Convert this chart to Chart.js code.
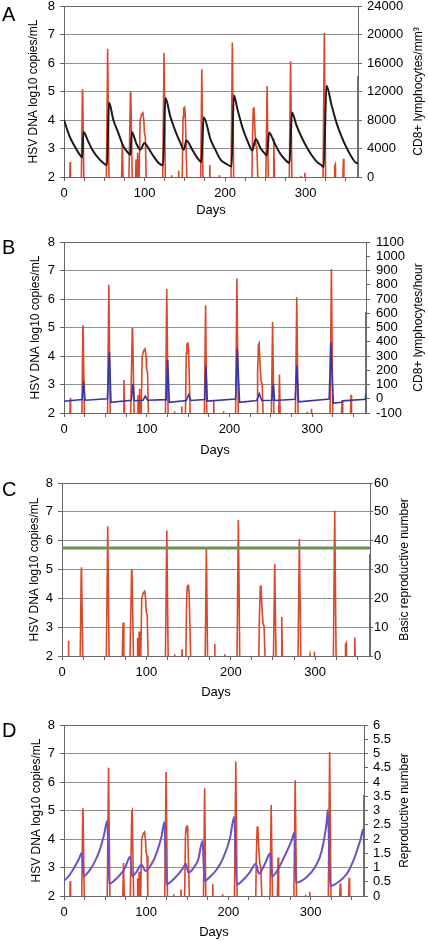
<!DOCTYPE html>
<html>
<head>
<meta charset="utf-8">
<script src="https://cdn.jsdelivr.net/npm/chart.js@4"></script>
<style>
  html, body { margin: 0; padding: 0; background: #fff; }
  #page { position: relative; width: 428px; height: 941px; overflow: hidden; }
  #page canvas { position: absolute; left: 0; }
  .letter { position: absolute; left: 2px; font: 20px/20px "Liberation Sans", Arial, sans-serif; color: #000; }
</style>
</head>
<body>
<div id="page">
  <canvas id="chartA" width="428" height="228" style="top:-10px"></canvas>
  <canvas id="chartB" width="428" height="232" style="top:226px"></canvas>
  <canvas id="chartC" width="428" height="233" style="top:467px"></canvas>
  <canvas id="chartD" width="428" height="231" style="top:709px"></canvas>
  <div class="letter" style="top:4px">A</div>
  <div class="letter" style="top:237px">B</div>
  <div class="letter" style="top:479px">C</div>
  <div class="letter" style="top:720px">D</div>
</div>
<script>
// HSV DNA (log10 copies/mL), same series in every panel; null = gap
const hsvDays = [
  7.2, 7.6, 8.0, 8.0,
  21.6, 22.8, 23.1, 24.6, 24.6,
  52.6, 54.2, 55.8, 55.8,
  71.5, 72.4, 73.3, 73.3,
  80.6, 82.5, 82.9, 84.7, 84.7,
  89.0, 89.4, 89.8, 89.8,
  90.8, 91.4, 92.0, 92.0,
  93.3, 94.5, 96.5, 98.0, 99.2, 99.8, 101.0, 102.0, 102.0,
  122.6, 124.2, 125.8, 125.8,
  133.3, 133.5, 133.7, 133.7,
  142.0, 142.3, 142.6, 142.6,
  146.8, 147.8, 148.6, 149.8, 150.6, 152.5, 152.5,
  169.7, 171.1, 172.5, 172.5,
  180.7, 181.0, 181.3, 181.3,
  192.7, 192.9, 193.1, 193.1,
  207.4, 209.0, 210.6, 210.6,
  233.3, 234.0, 235.0, 235.8, 237.2, 238.4, 239.4, 240.6, 240.6,
  250.6, 252.1, 253.6, 253.6,
  259.6, 260.4, 261.2, 261.2,
  279.7, 281.3, 282.9, 282.9,
  293.8, 294.0, 294.2, 294.2,
  298.7, 299.0, 299.3, 299.3,
  321.6, 323.2, 324.8, 324.8,
  335.4, 336.0, 336.6, 337.1, 337.1,
  346.3, 346.9, 347.5, 347.5,
  364.0, 364.8, 365.6
];
const hsvLog = [
  2, 2.53, 2, null,
  2, 5.0, 5.08, 2, null,
  2, 6.5, 2, null,
  2, 3.16, 2, null,
  2, 4.97, 5.0, 2, null,
  2, 2.62, 2, null,
  2, 2.85, 2, null,
  2, 4.0, 4.2, 4.25, 3.95, 3.55, 3.4, 2, null,
  2, 6.35, 2, null,
  2, 2.06, 2, null,
  2, 2.23, 2, null,
  2, 4.1, 4.42, 4.45, 4.2, 2, null,
  2, 5.78, 2, null,
  2, 2.42, 2, null,
  2, 2.06, 2, null,
  2, 6.72, 2, null,
  2, 3.4, 4.4, 4.45, 3.55, 3.08, 3.05, 2, null,
  2, 5.19, 2, null,
  2, 3.35, 2, null,
  2, 6.06, 2, null,
  2, 2.04, 2, null,
  2, 2.15, 2, null,
  2, 7.05, 2, null,
  2, 2.4, 2.44, 2, null,
  2, 2.64, 2, null,
  2, 5.54, 2
];

// A: CD8+ lymphocytes/mm3
const cd8Days = [0, 7.1, 13.4, 19.6, 22.5, 24.2, 30, 36.3, 42.5, 48.8, 53.4, 55.9, 61.3, 67.5, 73.8, 80, 82.5, 84.2,
  89.6, 94.6, 100, 104.6, 111.3, 117.5, 123, 125.9, 132, 138.4, 144.6, 148.8, 152, 159.2, 165.5, 170.5, 173.4, 182,
  188, 194.6, 200.9, 208, 210.9, 215.5, 221.7, 228, 233.8, 238, 243.8, 248.8, 252, 254.6, 261.3, 267.5, 273.8, 280,
  283, 288.4, 294.6, 300.9, 307.1, 313.4, 319.6, 322.5, 325.9, 332.1, 338.4, 344.6, 350.9, 357.1, 363.4, 365];
const cd8PerMm3 = [8000, 5680, 4280, 3120, 2760, 6320, 5000, 3600, 2680, 1960, 1640, 10440, 8000, 6160, 4280, 3360, 3120, 6320,
  4760, 3840, 4760, 4080, 2880, 1960, 1640, 11080, 8480, 6400, 4760, 3840, 5120, 3840, 2680, 2120, 8400, 5240,
  3800, 2400, 1880, 1480, 11440, 9440, 6880, 5000, 3720, 5320, 4080, 3360, 3040, 6240, 4760, 3440, 2520, 1960,
  9040, 7320, 5680, 4280, 3120, 2200, 1640, 1400, 12800, 10120, 7560, 5680, 4080, 2800, 1960, 2000];

// B: CD8+ lymphocytes/hour
const rateDays = [0, 22, 23.8, 25.4, 52.5, 54.8, 56.8, 81.4, 83.4, 85, 95.5, 98.3, 101, 123.7, 125.3, 127.3,
  147.8, 150.6, 153.4, 170, 171.6, 173.2, 207.4, 209.4, 212.2, 233, 236, 239, 251.3, 252.9, 254.5,
  279.5, 281.5, 283.5, 320.5, 322.5, 325.4, 335.5, 336.5, 364, 365];
const ratePerHour = [-18, -6, 122, -10, 0, 326, -25, -10, 104, -14, -10, 18, -10, -6, 272, -25,
  -12, 28, -12, -6, 230, -16, -2, 350, -25, -12, 36, -12, -10, 106, -12,
  -4, 232, -22, -2, 396, -30, -25, -15, -4, 36];

// C: basic reproductive number
const r0Days = [0, 365];
const r0Value = [37.5, 37.5];

// D: reproductive number
const rDays = [0, 6.7, 12.8, 17.7, 21.8, 23.8, 31.1, 37.2, 43.3, 48.6, 52.6, 55.1, 61.6, 67.7, 73.8, 80.7, 82.7, 88,
  94.1, 99.4, 106.3, 112.4, 118.5, 122.2, 124.6, 132.7, 138.8, 144.9, 148.2, 151.4, 157.1, 163.2, 168.5, 171,
  177.4, 185.6, 193.7, 201.8, 207.1, 210, 218.1, 226.2, 233.5, 237.2, 244.5, 250.6, 253.4, 260.7, 268.9, 277,
  280.2, 282.3, 295.4, 305.5, 313.7, 319.8, 321, 323.8, 333.9, 344.1, 352.2, 360.4, 364.4, 365];
const rValue = [0.53, 0.73, 1.02, 1.27, 1.52, 0.69, 0.9, 1.19, 1.6, 2.13, 2.63, 0.43, 0.55, 0.73, 0.96, 1.39, 0.7, 0.84,
  1.1, 0.88, 1.11, 1.49, 2.07, 2.6, 0.41, 0.57, 0.76, 0.98, 1.13, 0.82, 0.96, 1.27, 1.93, 0.53,
  0.67, 0.92, 1.34, 2.01, 2.77, 0.4, 0.57, 0.84, 1.13, 0.78, 1.13, 1.49, 0.69, 0.96, 1.43, 1.95,
  2.22, 0.47, 0.67, 1.02, 1.6, 2.65, 3.03, 0.35, 0.49, 0.78, 1.25, 1.95, 2.36, 1.8];

const xLabels = [0, 100, 200, 300];
const leftTitle = 'HSV DNA log10 copies/mL';

Chart.defaults.font.family = '"Liberation Sans", Arial, Helvetica, sans-serif';
Chart.defaults.font.size = 13;
Chart.defaults.color = '#000';

const toPoints = (xs, ys) => xs.map((x, i) => ({ x: x, y: ys[i] }));
const hsvPoints = toPoints(hsvDays, hsvLog);

// right axis titles read bottom-to-top in the original
const rightTitle = {
  id: 'rightTitle',
  afterDraw(chart, args, opts) {
    const { ctx, chartArea } = chart;
    ctx.save();
    ctx.translate(opts.x, (chartArea.top + chartArea.bottom) / 2);
    ctx.rotate(-Math.PI / 2);
    ctx.font = '12px "Liberation Sans", Arial, sans-serif';
    ctx.fillStyle = '#000';
    ctx.textAlign = 'center';
    ctx.textBaseline = 'middle';
    ctx.fillText(opts.text, 0, 0);
    ctx.restore();
  }
};

function makePanel(id, p) {
  return new Chart(document.getElementById(id), {
    type: 'line',
    data: {
      datasets: [
        {
          data: p.points, yAxisID: 'y2', borderColor: p.color, borderWidth: p.width,
          pointRadius: 0, cubicInterpolationMode: p.smooth ? 'monotone' : 'default', order: 0
        },
        {
          data: hsvPoints, yAxisID: 'y', borderColor: '#d9482b', borderWidth: 1.6,
          pointRadius: 0, spanGaps: false, order: 1
        }
      ]
    },
    options: {
      responsive: false,
      animation: false,
      layout: { padding: { top: 16, left: 0, right: 0, bottom: 0 } },
      plugins: {
        legend: { display: false },
        tooltip: { enabled: false },
        rightTitle: { text: p.rTitle, x: p.rTitleX }
      },
      scales: {
        x: {
          type: 'linear', min: 0, max: 365,
          ticks: {
            stepSize: 25, maxTicksLimit: 30, autoSkip: false, maxRotation: 0, includeBounds: false, padding: 5,
            callback: v => xLabels.includes(v) ? String(v) : ''
          },
          grid: { drawOnChartArea: false, tickLength: 4, color: '#666' },
          border: { color: '#666' },
          title: { display: true, text: 'Days', font: { size: 13 }, padding: 0 },
          afterFit: s => { s.height = p.xH; }
        },
        y: {
          position: 'left', min: 2, max: 8,
          ticks: { stepSize: 1, padding: 5, autoSkip: false },
          grid: { color: c => c.tick.value === 8 ? '#666' : '#909090', tickLength: 4, tickColor: '#666' },
          border: { color: '#666' },
          title: { display: true, text: leftTitle, font: { size: 12 }, padding: { top: p.lTitlePad, bottom: 0 } },
          afterFit: s => { s.width = p.left; }
        },
        y2: {
          position: 'right', min: p.rMin, max: p.rMax,
          ticks: { stepSize: p.rStep, maxTicksLimit: 30, autoSkip: false, padding: p.rPad, callback: v => String(v) },
          grid: { drawOnChartArea: false, tickLength: p.rTick, color: '#666' },
          border: { color: '#666' },
          afterFit: s => { s.width = p.right; }
        }
      }
    },
    plugins: [rightTitle]
  });
}

makePanel('chartA', {
  points: toPoints(cd8Days, cd8PerMm3), color: '#1a1a1a', width: 2, smooth: true,
  rMin: 0, rMax: 24000, rStep: 4000, rTitle: 'CD8+ lymphocytes/mm\u00b3', rTitleX: 419,
  left: 64, right: 70, xH: 41, lTitlePad: 26, rPad: 5, rTick: 4
});
makePanel('chartB', {
  points: toPoints(rateDays, ratePerHour), color: '#3636a8', width: 1.6, smooth: false,
  rMin: -100, rMax: 1100, rStep: 100, rTitle: 'CD8+ lymphocytes/hour', rTitleX: 419,
  left: 64, right: 62, xH: 45, lTitlePad: 28, rPad: 6, rTick: 4
});
makePanel('chartC', {
  points: toPoints(r0Days, r0Value), color: '#6f9150', width: 3, smooth: false,
  rMin: 0, rMax: 60, rStep: 10, rTitle: 'Basic reproductive number', rTitleX: 405,
  left: 62, right: 58, xH: 44, lTitlePad: 27, rPad: 1, rTick: 3
});
makePanel('chartD', {
  points: toPoints(rDays, rValue), color: '#6f4fc4', width: 2, smooth: true,
  rMin: 0, rMax: 6, rStep: 0.5, rTitle: 'Reproductive number', rTitleX: 405,
  left: 64, right: 64, xH: 44, lTitlePad: 29.5, rPad: 5, rTick: 4
});
</script>
</body>
</html>
